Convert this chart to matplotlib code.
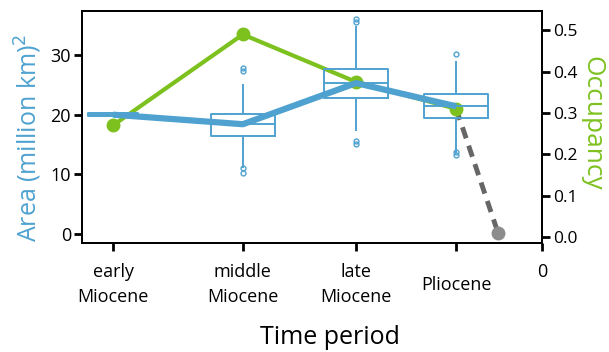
import numpy as np
import matplotlib
matplotlib.use("Agg")
import matplotlib.pyplot as plt

plt.rcParams['font.family'] = ['Open Sans', 'DejaVu Sans']

# time positions (Ma before present) of each period
periods = ['early\nMiocene', 'middle\nMiocene', 'late\nMiocene', 'Pliocene', '0\n ']
period_x = [19.5, 13.6, 8.45, 3.9, 0.0]

# area boxplot summaries (million km^2)
area_med = [20.0, 18.4, 25.3, 21.4]
area_q1 = [19.7, 16.4, 22.8, 19.4]
area_q3 = [20.2, 20.1, 27.6, 23.5]
area_lo = [19.7, 11.3, 17.4, 13.8]
area_hi = [20.2, 25.0, 34.7, 28.8]
area_fliers = [[], [10.2, 11.0, 27.3, 27.9], [15.0, 15.6, 35.6, 36.1], [13.2, 13.8, 30.1]]

# occupancy
occ = [0.27, 0.49, 0.375, 0.31]
occ_future_x = [3.9, 2.0]
occ_future = [0.31, 0.01]

blue = '#4fa2d0'
green = '#7dc11f'

fig = plt.figure(figsize=(6.09, 3.52), dpi=100)
ax = fig.add_axes([0.135, 0.31, 0.755, 0.659])
ax2 = ax.twinx()

stats = []
for i in range(4):
    stats.append(dict(med=area_med[i], q1=area_q1[i], q3=area_q3[i],
                      whislo=area_lo[i], whishi=area_hi[i], fliers=area_fliers[i]))
widths = [2.3, 2.9, 2.9, 2.9]
ax.bxp(stats, positions=period_x[:4], widths=widths, showcaps=False,
       boxprops=dict(color=blue, lw=1.4),
       whiskerprops=dict(color=blue, lw=1.4),
       medianprops=dict(color=blue, lw=1.4),
       flierprops=dict(marker='o', markersize=3.5, markerfacecolor='none',
                       markeredgecolor=blue, markeredgewidth=1.0),
       manage_ticks=False)
ax.plot(period_x[:4], area_med, color=blue, lw=4.5, solid_capstyle='butt', zorder=5)

ax2.plot(occ_future_x, occ_future, color='#666666', lw=3.5, ls=(0, (2.4, 1.6)), zorder=1)
ax2.plot(occ_future_x[1], occ_future[1], 'o', color='#8c8c8c', markersize=9, zorder=1)
ax2.plot(period_x[:4], occ, color=green, lw=3, marker='o', markersize=9, zorder=2)

ax.set_zorder(2)
ax.patch.set_visible(False)

ax.set_xlim(20.9, 0)
ax.set_ylim(-1.5, 37.4)
ax2.set_ylim(-0.0145, 0.547)

ax.set_xticks(period_x)
ax.set_xticklabels(periods, fontsize=13, linespacing=1.45)
for lab in ax.get_xticklabels():
    lab.set_verticalalignment('center')
ax.tick_params(axis='x', length=6, width=2, pad=24)
ax.set_yticks([0, 10, 20, 30])
ax.tick_params(axis='y', length=6, width=2, labelsize=13, pad=2)
ax2.set_yticks([0, 0.1, 0.2, 0.3, 0.4, 0.5])
ax2.set_yticklabels(['%.1f' % v for v in [0, 0.1, 0.2, 0.3, 0.4, 0.5]])
ax2.tick_params(axis='y', length=6, width=2, labelsize=12.5, pad=2)

for a in (ax, ax2):
    for s in a.spines.values():
        s.set_linewidth(1.3)

fig.text(330 / 609, 1 - 337 / 352, 'Time period', fontsize=18, ha='center', va='center')
fig.text(28 / 609, 1 - 138 / 352, 'Area (million km)$^2$', fontsize=18, color=blue,
         rotation=90, ha='center', va='center')
fig.text(592 / 609, 1 - 123 / 352, 'Occupancy', fontsize=19, color=green,
         rotation=-90, ha='center', va='center')

fig.savefig('out.png', dpi=100)
